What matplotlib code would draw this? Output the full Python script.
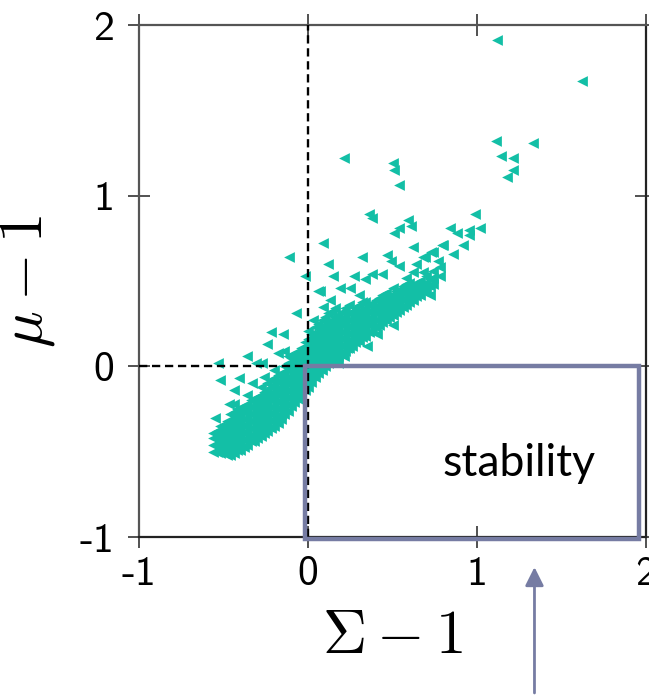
import matplotlib.pyplot as plt
from matplotlib.patches import Rectangle

plt.rcParams['mathtext.fontset'] = 'cm'

# dense band of points, one column of mu values per sigma value
band_sigma = [-0.56, -0.52, -0.48, -0.44, -0.40, -0.36, -0.32, -0.28, -0.24, -0.20,
              -0.16, -0.12, -0.08, -0.04, 0.00, 0.04, 0.08, 0.12, 0.16, 0.20,
              0.24, 0.28, 0.32, 0.36, 0.40, 0.44, 0.48, 0.52, 0.56, 0.60,
              0.64, 0.68, 0.72]
band_mu = [
    [-0.50, -0.46, -0.42],
    [-0.51, -0.47, -0.43, -0.39, -0.35],
    [-0.52, -0.48, -0.44, -0.40, -0.36, -0.32],
    [-0.51, -0.47, -0.43, -0.39, -0.35, -0.31, -0.27, -0.22],
    [-0.49, -0.45, -0.41, -0.37, -0.33, -0.29, -0.25],
    [-0.46, -0.42, -0.38, -0.34, -0.30, -0.26, -0.22, -0.17],
    [-0.44, -0.40, -0.36, -0.32, -0.28, -0.24, -0.20],
    [-0.41, -0.37, -0.33, -0.29, -0.25, -0.21, -0.17, -0.12],
    [-0.38, -0.34, -0.30, -0.26, -0.22, -0.18, -0.14, -0.10],
    [-0.35, -0.31, -0.27, -0.23, -0.19, -0.15, -0.11, -0.07, -0.02],
    [-0.31, -0.28, -0.24, -0.20, -0.16, -0.12, -0.08, -0.04],
    [-0.26, -0.22, -0.18, -0.14, -0.10, -0.06, -0.02, 0.02],
    [-0.21, -0.17, -0.13, -0.09, -0.05, -0.01, 0.03, 0.07],
    [-0.17, -0.13, -0.09, -0.05, -0.01, 0.03, 0.07, 0.11],
    [-0.12, -0.08, -0.04, 0.00, 0.04, 0.08, 0.12, 0.16, 0.21],
    [-0.06, -0.02, 0.02, 0.06, 0.10, 0.14, 0.18, 0.23],
    [-0.02, 0.02, 0.06, 0.10, 0.14, 0.18, 0.22, 0.27],
    [0.02, 0.06, 0.10, 0.14, 0.18, 0.22, 0.26, 0.31],
    [0.05, 0.09, 0.13, 0.17, 0.21, 0.25, 0.29, 0.34],
    [0.08, 0.12, 0.16, 0.20, 0.24, 0.28, 0.32],
    [0.11, 0.15, 0.19, 0.23, 0.27, 0.31, 0.36],
    [0.14, 0.18, 0.22, 0.26, 0.30, 0.34],
    [0.17, 0.21, 0.25, 0.29, 0.33, 0.38],
    [0.20, 0.24, 0.28, 0.32, 0.36],
    [0.23, 0.27, 0.31, 0.35, 0.39],
    [0.26, 0.30, 0.34, 0.38, 0.42],
    [0.29, 0.33, 0.37, 0.41],
    [0.32, 0.36, 0.40, 0.44],
    [0.35, 0.39, 0.43, 0.47],
    [0.38, 0.42, 0.46],
    [0.41, 0.45, 0.49],
    [0.44, 0.48],
    [0.47, 0.51],
]

# second, staggered set of columns filling the gaps of the band
fill_sigma = [-0.54, -0.50, -0.46, -0.42, -0.38, -0.34, -0.30, -0.26, -0.22, -0.18,
              -0.14, -0.10, -0.06, -0.02, 0.02, 0.06, 0.10, 0.14, 0.18, 0.22,
              0.26, 0.30, 0.34, 0.38, 0.42, 0.46, 0.50, 0.54, 0.58, 0.62,
              0.66, 0.70, 0.74, 0.78]
fill_mu = [
    [-0.50, -0.46, -0.42, -0.38],
    [-0.51, -0.47, -0.43, -0.39, -0.35],
    [-0.52, -0.48, -0.44, -0.40, -0.36, -0.32, -0.28],
    [-0.49, -0.45, -0.41, -0.37, -0.33, -0.29, -0.25],
    [-0.47, -0.43, -0.39, -0.35, -0.31, -0.27, -0.23],
    [-0.44, -0.40, -0.36, -0.32, -0.28, -0.24, -0.20],
    [-0.42, -0.38, -0.34, -0.30, -0.26, -0.22, -0.18],
    [-0.39, -0.35, -0.31, -0.27, -0.23, -0.19, -0.15],
    [-0.36, -0.32, -0.28, -0.24, -0.20, -0.16, -0.12, -0.08],
    [-0.33, -0.29, -0.25, -0.21, -0.17, -0.13, -0.09, -0.05],
    [-0.28, -0.24, -0.20, -0.16, -0.12, -0.08, -0.04, 0.00],
    [-0.23, -0.19, -0.15, -0.11, -0.07, -0.03, 0.01, 0.05],
    [-0.19, -0.15, -0.11, -0.07, -0.03, 0.01, 0.05, 0.09],
    [-0.14, -0.10, -0.06, -0.02, 0.02, 0.06, 0.10, 0.14],
    [-0.09, -0.05, -0.01, 0.03, 0.07, 0.11, 0.15, 0.19],
    [-0.04, 0.00, 0.04, 0.08, 0.12, 0.16, 0.20, 0.25],
    [0.00, 0.04, 0.08, 0.12, 0.16, 0.20, 0.24, 0.29],
    [0.03, 0.07, 0.11, 0.15, 0.19, 0.23, 0.27, 0.32],
    [0.06, 0.10, 0.14, 0.18, 0.22, 0.26, 0.30],
    [0.09, 0.13, 0.17, 0.21, 0.25, 0.29, 0.34],
    [0.12, 0.16, 0.20, 0.24, 0.28, 0.32],
    [0.15, 0.19, 0.23, 0.27, 0.31, 0.36],
    [0.18, 0.22, 0.26, 0.30, 0.34, 0.38],
    [0.21, 0.25, 0.29, 0.33, 0.37],
    [0.24, 0.28, 0.32, 0.36, 0.40],
    [0.27, 0.31, 0.35, 0.39, 0.43],
    [0.30, 0.34, 0.38, 0.42, 0.46],
    [0.33, 0.37, 0.41, 0.45],
    [0.36, 0.40, 0.44, 0.48],
    [0.39, 0.43, 0.47],
    [0.42, 0.46, 0.50],
    [0.45, 0.49, 0.53],
    [0.48, 0.52, 0.56],
    [0.53, 0.58],
]

# scattered points around the band
outer_sigma = [1.12, 1.62, 0.21, 0.50, 0.51, 0.54, 1.11, 1.33, 1.14, 1.21,
               1.21, 1.18, 0.36, 0.38, 0.59, 0.61, 0.54, 0.51, 0.62, 0.84,
               0.88, 0.95, 0.95, 0.99, 1.02, 0.92, 0.79, 0.74, 0.69, 0.47,
               0.32, 0.09, 0.12, -0.02, 0.72, 0.41, 0.07, -0.11, -0.07, -0.22,
               -0.15, -0.24, -0.52, -0.44, -0.53, -0.36, -0.41, -0.31, -0.27, -0.18,
               -0.14, 0.15, 0.27, 0.34, 0.38, 0.44, 0.49, 0.54, 0.62, 0.64,
               0.68, 0.73, 0.80, 0.19, 0.25, 0.06, 0.13, 0.09, 0.47, 0.54,
               0.60, 0.68, 0.44, 0.23, 0.21, -0.56, -0.55,
               -0.47, -0.33, -0.26, -0.12, 0.03, 0.30, 0.58, 0.77, 0.86, 0.18,
               0.35, 0.50]
outer_mu = [1.91, 1.67, 1.22, 1.19, 1.15, 1.06, 1.32, 1.31, 1.23, 1.22,
            1.15, 1.11, 0.89, 0.87, 0.86, 0.82, 0.81, 0.78, 0.70, 0.81,
            0.78, 0.80, 0.77, 0.89, 0.81, 0.71, 0.71, 0.67, 0.64, 0.65,
            0.64, 0.72, 0.60, 0.53, 0.42, 0.19, 0.44, 0.64, 0.31, 0.20,
            0.19, 0.13, -0.08, -0.14, 0.02, 0.06, -0.07, 0.02, 0.02, 0.08,
            0.09, 0.53, 0.53, 0.51, 0.54, 0.54, 0.62, 0.59, 0.55, 0.60,
            0.64, 0.67, 0.71, 0.46, 0.46, 0.44, 0.39, 0.35, 0.40, 0.44,
            0.49, 0.55, 0.31, 0.11, 0.06, -0.39, -0.30,
            -0.22, -0.10, -0.06, 0.06, 0.27, 0.42, 0.52, 0.62, 0.66, 0.02,
            0.12, 0.24]

xticks = [-1, 0, 1, 2]
yticks = [-1, 0, 1, 2]
tick_labels = ['-1', '0', '1', '2']

teal = '#13bfa6'
slate = '#767ca3'

sigma = []
mu = []
for s, col in zip(band_sigma + fill_sigma, band_mu + fill_mu):
    for m in col:
        sigma.append(s)
        mu.append(m)
sigma += outer_sigma
mu += outer_mu

fig = plt.figure(figsize=(6.49, 6.95), dpi=100)
ax = fig.add_axes([0.2142, 0.2273, 0.7812, 0.7367])

ax.scatter(sigma, mu, marker='<', s=60, color=teal, linewidths=0, zorder=2)

# dashed guide lines through the origin
ax.plot([0, 0], [-1, 2], color='black', ls=(0, (3.5, 2.0)), lw=1.7, zorder=3)
ax.plot([-1, 0], [0, 0], color='black', ls=(0, (3.5, 2.0)), lw=1.7, zorder=3)

# stability region
ax.add_patch(Rectangle((-0.02, -1.01), 1.98, 1.01, fill=False, edgecolor=slate,
                       lw=3.2, zorder=4, clip_on=False))
ax.text(1.25, -0.57, 'stability', fontsize=32, family='Lato',
        ha='center', va='center', zorder=5)

ax.annotate('', xy=(1.34, -1.16), xytext=(1.34, -1.93),
            arrowprops=dict(arrowstyle='-|>', color=slate, lw=2, mutation_scale=28),
            annotation_clip=False)

ax.set_xlim(-1, 2)
ax.set_ylim(-1, 2)
ax.set_xticks(xticks)
ax.set_yticks(yticks)
ax.set_xticklabels(tick_labels, family='cmss10', fontsize=30)
ax.set_yticklabels(tick_labels, family='cmss10', fontsize=30)
ax.tick_params(direction='inout', length=16, width=1.1, top=True, right=True,
               color='#222222')
ax.tick_params(axis='x', pad=6)
ax.tick_params(axis='y', pad=10)

for side in ['left', 'top']:
    ax.spines[side].set_color('#555555')
for side in ['bottom', 'right']:
    ax.spines[side].set_color('#222222')
for sp in ax.spines.values():
    sp.set_linewidth(1.6)

ax.set_xlabel(r'$\Sigma - 1$', fontsize=44, labelpad=10)
ax.set_ylabel(r'$\mu - 1$', fontsize=44, labelpad=16)

fig.savefig('out.png', dpi=100)
